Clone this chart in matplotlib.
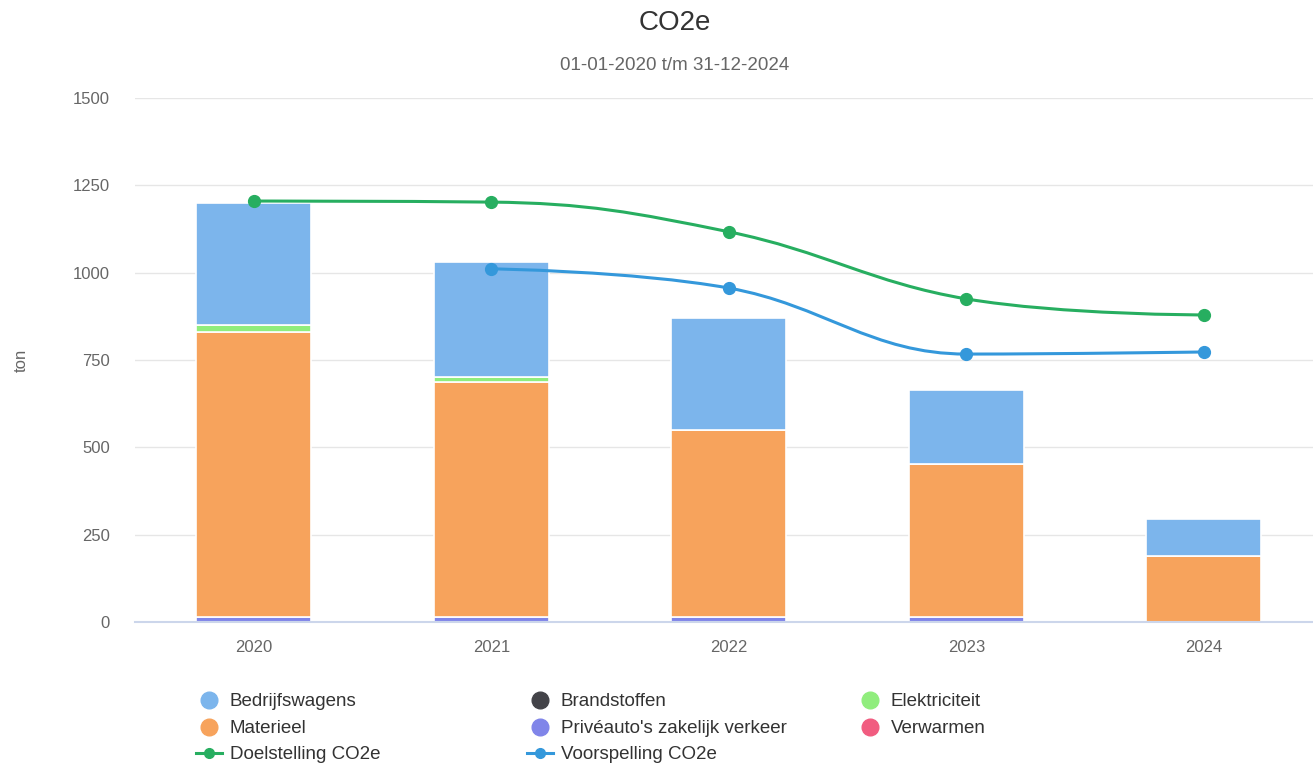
import matplotlib
matplotlib.use('Agg')
import matplotlib.pyplot as plt
from matplotlib.path import Path
from matplotlib.patches import PathPatch
from matplotlib.lines import Line2D

plt.rcParams['font.family'] = ['Liberation Sans', 'DejaVu Sans']

years = ['2020', '2021', '2022', '2023', '2024']
verwarmen = [0, 0, 0, 0, 0]
prive = [15, 15, 15, 15, 0]
materieel = [815, 672, 535, 437, 189]
elektriciteit = [20, 14, 0, 0, 0]
brandstoffen = [0, 0, 0, 0, 0]
bedrijfswagens = [350, 330, 320, 212, 106]

doel_x = [0, 1, 2, 3, 4]
doelstelling = [1205, 1202, 1117, 925, 879]
voorsp_x = [1, 2, 3, 4]
voorspelling = [1011, 956, 767, 773]

# bottom -> top stacking order
stack = [
    ('Verwarmen', verwarmen, '#f15c80'),
    ("Privéauto's zakelijk verkeer", prive, '#8085e9'),
    ('Materieel', materieel, '#f7a35c'),
    ('Elektriciteit', elektriciteit, '#90ed7d'),
    ('Brandstoffen', brandstoffen, '#434348'),
    ('Bedrijfswagens', bedrijfswagens, '#7cb5ec'),
]
colors = {name: c for name, _, c in stack}
green = '#27ae60'
blue = '#3498db'


def spline_path(xs, ys, smoothing=1.5):
    # highcharts-style spline control points
    n = len(xs)
    left = [(x, y) for x, y in zip(xs, ys)]
    right = list(left)
    d = smoothing + 1
    for i in range(1, n - 1):
        px, py = xs[i], ys[i]
        lx, ly = xs[i - 1], ys[i - 1]
        nx, ny = xs[i + 1], ys[i + 1]
        lcx, lcy = (smoothing * px + lx) / d, (smoothing * py + ly) / d
        rcx, rcy = (smoothing * px + nx) / d, (smoothing * py + ny) / d
        if rcx != lcx:
            corr = ((rcy - lcy) * (rcx - px)) / (rcx - lcx) + py - rcy
            lcy += corr
            rcy += corr
        if lcy > ly and lcy > py:
            lcy = max(ly, py); rcy = 2 * py - lcy
        elif lcy < ly and lcy < py:
            lcy = min(ly, py); rcy = 2 * py - lcy
        if rcy > ny and rcy > py:
            rcy = max(ny, py); lcy = 2 * py - rcy
        elif rcy < ny and rcy < py:
            rcy = min(ny, py); lcy = 2 * py - rcy
        left[i] = (lcx, lcy)
        right[i] = (rcx, rcy)
    verts = [(xs[0], ys[0])]
    codes = [Path.MOVETO]
    for i in range(1, n):
        verts += [right[i - 1], left[i], (xs[i], ys[i])]
        codes += [Path.CURVE4] * 3
    return Path(verts, codes)


W, H = 1313, 764
fig = plt.figure(figsize=(W / 100, H / 100), dpi=100)
ax = fig.add_axes([135 / W, 142 / H, 1178 / W, 524 / H])

x = list(range(len(years)))
bottom = [0] * len(years)
for name, vals, c in stack:
    ax.bar(x, vals, width=0.485, bottom=bottom, color=c, edgecolor='white',
           linewidth=1.2, zorder=2)
    bottom = [b + v for b, v in zip(bottom, vals)]

for xs, ys, c in [(doel_x, doelstelling, green), (voorsp_x, voorspelling, blue)]:
    ax.add_patch(PathPatch(spline_path(xs, ys), facecolor='none', edgecolor=c,
                           linewidth=2.2, zorder=3))
    ax.plot(xs, ys, 'o', color=c, markersize=8.5, zorder=4, linestyle='none')

ax.set_xlim(-0.5, -0.5 + 1178 / 237.5)
ax.set_ylim(0, 1500)
ax.set_yticks([0, 250, 500, 750, 1000, 1250, 1500])
ax.set_xticks(x)
ax.set_xticklabels(years)
ax.grid(axis='y', color='#e6e6e6', linewidth=1, zorder=0)
ax.set_axisbelow(True)
for s in ['top', 'right', 'left']:
    ax.spines[s].set_visible(False)
ax.spines['bottom'].set_color('#ccd6eb')
ax.spines['bottom'].set_linewidth(1.5)
ax.tick_params(axis='y', length=0, pad=18, labelsize=12, labelcolor='#666666')
ax.tick_params(axis='x', length=0, pad=13, labelsize=12, labelcolor='#666666')
ax.set_ylabel('ton', fontsize=12, color='#666666', labelpad=32)

fig.text(675 / W, 1 - 23 / H, 'CO2e', ha='center', va='center', fontsize=20, color='#333333')
fig.text(675 / W, 1 - 66 / H, '01-01-2020 t/m 31-12-2024', ha='center', va='center',
         fontsize=13.5, color='#666666')

# legend laid out like the original, row by row
legend_items = [
    ('Bedrijfswagens', 'bar'), ('Brandstoffen', 'bar'), ('Elektriciteit', 'bar'),
    ('Materieel', 'bar'), ("Privéauto's zakelijk verkeer", 'bar'), ('Verwarmen', 'bar'),
    ('Doelstelling CO2e', green), ('Voorspelling CO2e', blue),
]
col_x = [209, 540, 870]
row_y = [700, 727, 753]
for i, (label, kind) in enumerate(legend_items):
    cx = col_x[i % 3]
    cy = 1 - row_y[i // 3] / H
    if kind == 'bar':
        fig.add_artist(Line2D([cx / W], [cy], marker='o', markersize=12,
                              color=colors[label], linestyle='none'))
    else:
        fig.add_artist(Line2D([(cx - 13) / W, (cx + 13) / W], [cy, cy],
                              color=kind, linewidth=2.2))
        fig.add_artist(Line2D([cx / W], [cy], marker='o', markersize=7,
                              color=kind, linestyle='none'))
    fig.text((cx + 21) / W, cy - 1.5 / H, label, ha='left', va='center', fontsize=13.5,
             color='#333333')

fig.savefig('out.png', dpi=100)
